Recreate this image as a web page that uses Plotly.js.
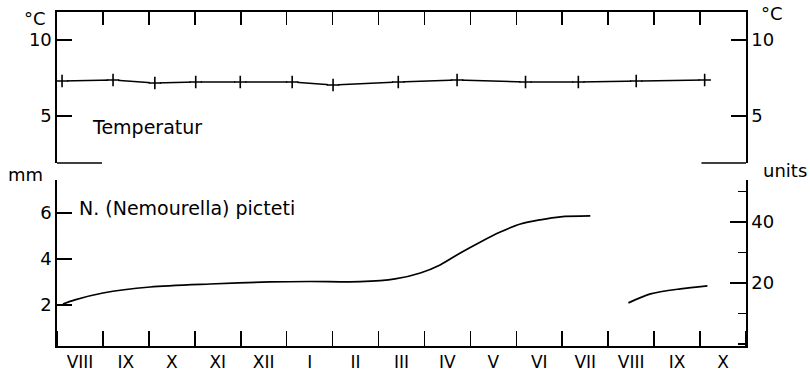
<!DOCTYPE html>
<html>
<head>
<meta charset="utf-8">
<script src="https://cdn.plot.ly/plotly-3.0.1.min.js"></script>
<style>html,body{margin:0;padding:0;background:#fff;}#chart{width:810px;height:372px;}</style>
</head>
<body>
<div id="chart"></div>
<script>
// Month labels (each month occupies one unit on the x axis, label at its centre)
const monthLabels = ["VIII","IX","X","XI","XII","I","II","III","IV","V","VI","VII","VIII","IX","X"];

// Temperature (°C), positions in month units from start of VIII
const tempX = [0.11, 1.22, 2.13, 3.02, 3.99, 5.12, 6.01, 7.43, 8.71, 10.20, 11.35, 12.61, 14.10];
const tempY = [7.30, 7.37, 7.17, 7.24, 7.24, 7.24, 7.04, 7.24, 7.37, 7.24, 7.24, 7.30, 7.37];

// N. (Nemourella) picteti body length (mm), first generation
const gen1X = [0.13, 0.39, 1.00, 2.03, 3.33, 4.64, 5.51, 6.60, 7.36, 7.91, 8.34, 8.78, 9.22, 9.65, 10.09, 10.52, 10.96, 11.61];
const gen1Y = [2.04, 2.22, 2.52, 2.78, 2.91, 3.00, 3.02, 3.01, 3.13, 3.39, 3.74, 4.26, 4.74, 5.17, 5.52, 5.70, 5.83, 5.87];

// second generation
const gen2X = [12.44, 12.92, 13.57, 14.16];
const gen2Y = [2.09, 2.48, 2.70, 2.83];

const tempTicks = [5, 10];
const mmTicks = [2, 4, 6];
const unitTicks = [20, 40];

const FONT = "DejaVu Sans, sans-serif";
const centers = monthLabels.map((_, i) => i + 0.5);
const bounds = monthLabels.slice(1).map((_, i) => i + 1);

const traces = [
  {x: tempX, y: tempY, xaxis: 'x2', yaxis: 'y2', mode: 'lines', line: {color: 'black', width: 1.4}, hoverinfo: 'skip'},
  {x: tempX, y: tempY, xaxis: 'x2', yaxis: 'y2', mode: 'markers', marker: {symbol: 'square', size: 10, color: 'white', line: {width: 0}}, hoverinfo: 'skip'},
  {x: tempX, y: tempY, xaxis: 'x2', yaxis: 'y2', mode: 'markers', marker: {symbol: 'cross-thin-open', size: 9, color: 'black', line: {color: 'black', width: 1.6}}},
  {x: [], y: [], xaxis: 'x2', yaxis: 'y3', mode: 'lines'},
  {x: gen1X, y: gen1Y, xaxis: 'x', yaxis: 'y', mode: 'lines', line: {color: 'black', width: 1.7, shape: 'spline', smoothing: 0.8}},
  {x: gen2X, y: gen2Y, xaxis: 'x', yaxis: 'y', mode: 'lines', line: {color: 'black', width: 1.7, shape: 'spline', smoothing: 0.8}},
  {x: [], y: [], xaxis: 'x', yaxis: 'y4', mode: 'lines'}
];

const axisCommon = {showgrid: false, zeroline: false, showline: true, linecolor: 'black', linewidth: 1.6,
  tickcolor: 'black', tickwidth: 1.6, tickfont: {family: FONT, size: 18, color: 'black'}, fixedrange: true};

const layout = {
  width: 810, height: 372,
  margin: {l: 57, r: 64, t: 12, b: 26},
  paper_bgcolor: 'white', plot_bgcolor: 'white',
  showlegend: false,
  font: {family: FONT, color: 'black'},
  xaxis: Object.assign({}, axisCommon, {
    domain: [0, 1], anchor: 'y', range: [0, 15],
    tickmode: 'array', tickvals: centers, ticktext: monthLabels, ticks: '',
    minor: {dtick: 1, tick0: 0, ticks: 'inside', ticklen: 15, tickwidth: 1.6, tickcolor: 'black', showgrid: false},
    tickfont: {family: FONT, size: 17, color: 'black'}
  }),
  xaxis2: Object.assign({}, axisCommon, {
    domain: [0, 1], anchor: 'y2', side: 'top', range: [0, 15],
    tickmode: 'array', tickvals: bounds, ticks: 'inside', ticklen: 13, showticklabels: false
  }),
  yaxis2: Object.assign({}, axisCommon, {
    domain: [0.548, 1], anchor: 'x2', range: [1.91, 11.84],
    tickmode: 'array', tickvals: tempTicks, ticks: 'inside', ticklen: 15
  }),
  yaxis3: Object.assign({}, axisCommon, {
    overlaying: 'y2', anchor: 'x2', side: 'right', range: [1.91, 11.84],
    tickmode: 'array', tickvals: tempTicks, ticks: 'inside', ticklen: 15
  }),
  yaxis: Object.assign({}, axisCommon, {
    domain: [0, 0.497], anchor: 'x', range: [0.217, 7.43],
    tickmode: 'array', tickvals: mmTicks, ticks: 'inside', ticklen: 15
  }),
  yaxis4: Object.assign({}, axisCommon, {
    overlaying: 'y', anchor: 'x', side: 'right', range: [-0.66, 53.77],
    tickmode: 'array', tickvals: unitTicks, ticks: 'inside', ticklen: 16,
    minor: {dtick: 10, tick0: 0, ticks: 'inside', ticklen: 8, tickwidth: 1.6, tickcolor: 'black', showgrid: false}
  }),
  shapes: [
    {type: 'line', xref: 'x2', yref: 'y2 domain', x0: 0, x1: 0.98, y0: 0, y1: 0, line: {color: 'black', width: 1.6}},
    {type: 'line', xref: 'x2', yref: 'y2 domain', x0: 14.03, x1: 15, y0: 0, y1: 0, line: {color: 'black', width: 1.6}}
  ],
  annotations: [
    {text: '°C', xref: 'paper', yref: 'paper', x: -0.032, y: 0.982, xanchor: 'center', yanchor: 'middle', showarrow: false, font: {family: FONT, size: 18}},
    {text: '°C', xref: 'paper', yref: 'paper', x: 1.038, y: 0.997, xanchor: 'center', yanchor: 'middle', showarrow: false, font: {family: FONT, size: 18}},
    {text: 'mm', xref: 'paper', yref: 'paper', x: -0.045, y: 0.512, xanchor: 'center', yanchor: 'middle', showarrow: false, font: {family: FONT, size: 18}},
    {text: 'units', xref: 'paper', yref: 'paper', x: 1.057, y: 0.524, xanchor: 'center', yanchor: 'middle', showarrow: false, font: {family: FONT, size: 18}},
    {text: 'Temperatur', xref: 'paper', yref: 'paper', x: 0.048, y: 0.656, xanchor: 'left', yanchor: 'middle', showarrow: false, font: {family: FONT, size: 19}},
    {text: 'N. (Nemourella) picteti', xref: 'paper', yref: 'paper', x: 0.029, y: 0.413, xanchor: 'left', yanchor: 'middle', showarrow: false, font: {family: FONT, size: 19}}
  ]
};

Plotly.newPlot('chart', traces, layout, {staticPlot: true, displayModeBar: false});
</script>
</body>
</html>
